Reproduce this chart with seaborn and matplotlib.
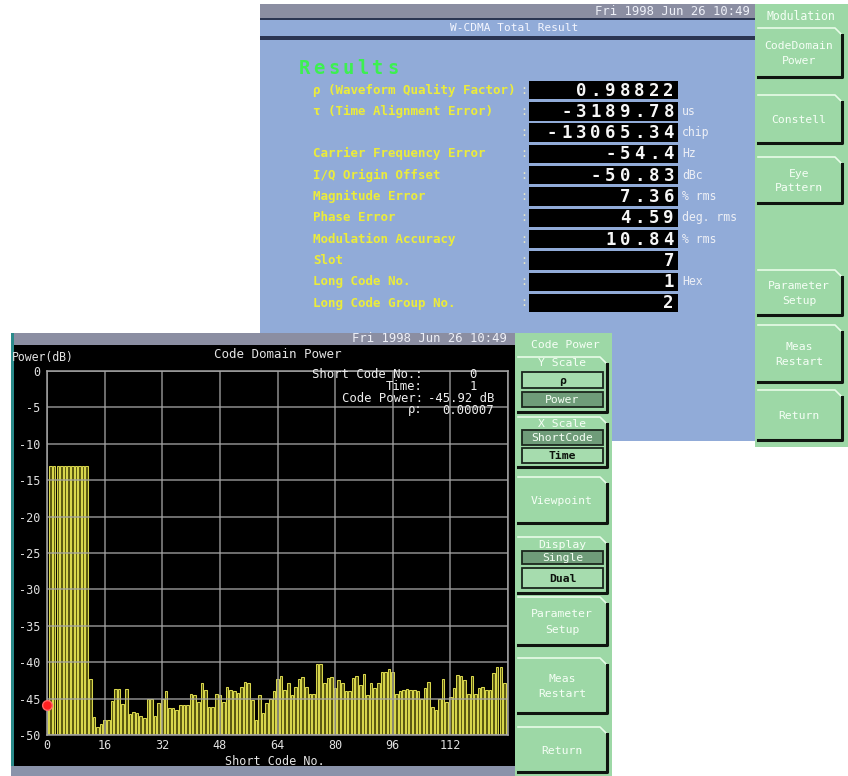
import numpy as np
import pandas as pd
import matplotlib
matplotlib.use("Agg")
import matplotlib.pyplot as plt
from matplotlib.patches import Rectangle
from matplotlib.ticker import FuncFormatter, FixedLocator
import seaborn as sns

W, H = 848, 776
plt.rcParams['font.family'] = ['DejaVu Sans Mono', 'DejaVu Sans']

# ------------------------------------------------------------------ data
codes = list(range(128))
power_db = [
    -45.92, -13.0, -13.0, -13.0, -13.0, -13.0, -13.0, -13.0, -13.0, -13.0, -13.0, -13.0,
    -42.3, -47.5, -48.9, -48.5, -48.0, -48.0, -45.3, -43.7, -43.7, -45.7, -43.7, -47.1,
    -46.8, -47.0, -47.4, -47.6, -45.0, -45.0, -47.4, -45.6, -45.0, -44.0, -46.3, -46.3,
    -46.6, -45.9, -45.9, -45.9, -44.3, -44.5, -45.5, -42.9, -43.8, -46.1, -46.1, -44.3,
    -44.5, -45.5, -43.4, -43.8, -43.9, -44.2, -43.4, -42.7, -42.9, -45.2, -47.9, -44.5,
    -47.0, -45.6, -45.1, -44.0, -42.3, -41.9, -43.8, -42.9, -44.5, -43.4, -42.3, -42.1,
    -43.4, -44.3, -44.3, -40.2, -40.3, -42.9, -42.2, -42.1, -43.5, -42.4, -42.9, -44.0,
    -44.0, -42.2, -41.9, -43.1, -41.6, -44.5, -42.9, -43.6, -42.9, -41.3, -41.3, -40.9,
    -41.3, -44.3, -44.0, -43.8, -43.7, -43.8, -43.8, -43.9, -45.1, -43.6, -42.7, -46.1,
    -46.6, -45.1, -42.3, -45.5, -44.8, -43.6, -41.7, -41.9, -42.4, -44.3, -41.9, -44.3,
    -43.6, -43.4, -43.8, -43.8, -41.5, -40.6, -40.6, -42.9,
]
floor_db = -50
y_ticks_db = [0, -5, -10, -15, -20, -25, -30, -35, -40, -45, -50]
x_ticks = [0, 16, 32, 48, 64, 80, 96, 112, 128]
x_tick_labels = ["0", "16", "32", "48", "64", "80", "96", "112", ""]

marker_code = 0
marker_power = -45.92
info_labels = ["Short Code No.:", "Time:", "Code Power:", "ρ:"]
info_values = ["0", "1", "-45.92 dB", "0.00007"]

result_labels = ["ρ (Waveform Quality Factor)", "τ (Time Alignment Error)", "",
                 "Carrier Frequency Error", "I/Q Origin Offset", "Magnitude Error",
                 "Phase Error", "Modulation Accuracy", "Slot", "Long Code No.",
                 "Long Code Group No."]
result_values = ["0.98822", "-3189.78", "-13065.34", "-54.4", "-50.83", "7.36",
                 "4.59", "10.84", "7", "1", "2"]
result_units = ["", "us", "chip", "Hz", "dBc", "% rms", "deg. rms", "% rms", "", "Hex", ""]

top_menu = [("CodeDomain\nPower", 28, 77), ("Constell", 95, 143), ("Eye\nPattern", 157, 203),
            ("Parameter\nSetup", 270, 315), ("Meas\nRestart", 325, 382), ("Return", 390, 440)]
date_text = "Fri 1998 Jun 26 10:49"

# ------------------------------------------------------------------ figure
fig = plt.figure(figsize=(W / 100, H / 100), dpi=100)
fig.patch.set_facecolor("white")

def px_rect(l, t, w, h):
    return [l / W, 1 - (t + h) / H, w / W, h / H]

bg = fig.add_axes([0, 0, 1, 1], zorder=0)
bg.set_xlim(0, W); bg.set_ylim(H, 0); bg.axis("off")
ov = fig.add_axes([0, 0, 1, 1], zorder=10)
ov.set_xlim(0, W); ov.set_ylim(H, 0); ov.axis("off"); ov.patch.set_alpha(0)

GREEN = "#9dd8a6"
DARKSEL = "#6f9c79"
GRAYBAR = "#8b8ea2"
BLUE = "#91abd8"

def box(ax, x0, y0, x1, y1, fc, ec="none", lw=0, z=1):
    ax.add_patch(Rectangle((x0, y0), x1 - x0, y1 - y0, facecolor=fc, edgecolor=ec, lw=lw, zorder=z))

def button(ax, x0, y0, x1, y1, face=GREEN):
    box(ax, x0, y0, x1, y1, face)
    ax.plot([x0, x1 - 7, x1], [y0, y0, y0 + 7], color="#e8fbe8", lw=1.2, zorder=2)
    ax.plot([x1, x1, x0], [y0 + 7, y1, y1], color="#101510", lw=2.2, zorder=2)

def cells(ax, right, y, s, cell, **kw):
    n = len(s)
    for i, ch in enumerate(s):
        ax.text(right - (n - i - 0.5) * cell, y, ch, ha="center", va="center", **kw)

# ---------------- top panel (W-CDMA Total Result)
box(bg, 260, 4, 755, 18, GRAYBAR)
box(bg, 260, 18, 755, 40, "#2b3552")
box(bg, 260, 20, 755, 36, BLUE)
box(bg, 260, 40, 755, 441, BLUE)
box(bg, 755, 4, 848, 447, GREEN)
ov.text(750, 11.5, date_text, ha="right", va="center", color="#eef0f8", fontsize=8.8)
ov.text(514, 28, "W-CDMA Total Result", ha="center", va="center", color="#f4f6ff", fontsize=8)
ov.text(801, 17, "Modulation", ha="center", va="center", color="#f4fff4", fontsize=8.3)
for label, t, b in top_menu:
    button(bg, 758, t, 842, b)
    ov.text(799, (t + b) / 2 + 1, label, ha="center", va="center", color="#f6fff6",
            fontsize=8.2, linespacing=1.55)

cells(ov, 400, 68, "Results", 14.7, color="#3cf050", fontsize=13.5, fontweight="bold")
row_y0, row_dy = 90, 21.3
for i, (lab, val, unit) in enumerate(zip(result_labels, result_values, result_units)):
    y = row_y0 + i * row_dy
    box(bg, 529, y - 9.2, 678, y + 9.2, "#000000", z=2)
    ov.text(313, y, lab, ha="left", va="center", color="#ecec3a", fontsize=9, fontweight="bold")
    ov.text(524, y, ":", ha="center", va="center", color="#e6e6c8", fontsize=8.5)
    cells(ov, 676, y + 0.5, val, 14.6, color="#f6f6f6", fontsize=12.5, fontweight="bold")
    if unit:
        ov.text(682, y, unit, ha="left", va="center", color="#eef0f6", fontsize=8.3)

# ---------------- lower panel (Code Domain Power)
box(bg, 11, 333, 516, 345, GRAYBAR)
box(bg, 11, 345, 516, 766, "#000000")
box(bg, 11, 333, 13.5, 776, "#2a8a8a")
box(bg, 11, 766, 516, 776, "#8a93aa")
box(bg, 515, 333, 612, 776, GREEN)
ov.text(507, 339, date_text, ha="right", va="center", color="#eef0f8", fontsize=8.8)

ov.text(565, 345, "Code Power", ha="center", va="center", color="#f6fff6", fontsize=8.2)
groups = [("Y Scale", 357, 412, 363, [("ρ", 372, 388, False), ("Power", 392, 407, True)]),
          ("X Scale", 417, 467, 424, [("ShortCode", 430, 445, True), ("Time", 448, 463, False)]),
          ("Display", 537, 593, 545, [("Single", 551, 564, True), ("Dual", 568, 588, False)])]
for title, t, b, ty, subs in groups:
    button(bg, 518, t, 607, b)
    ov.text(562, ty, title, ha="center", va="center", color="#f6fff6", fontsize=8.2)
    for lab, st, sb, sel in subs:
        box(bg, 522, st, 603, sb, DARKSEL if sel else "#a6dcae", ec="#1b261d", lw=1.3, z=3)
        ov.text(562.5, (st + sb) / 2 + 0.5, lab, ha="center", va="center",
                color="#f4fff4" if sel else "#0c120c", fontsize=8.2,
                fontweight="normal" if sel else "bold")
low_menu = [("Viewpoint", 477, 523), ("Parameter\nSetup", 597, 645),
            ("Meas\nRestart", 658, 713), ("Return", 727, 772)]
for label, t, b in low_menu:
    button(bg, 518, t, 607, b)
    ov.text(562, (t + b) / 2 + 1, label, ha="center", va="center", color="#f6fff6",
            fontsize=8.2, linespacing=1.7)

# chart texts
ov.text(12, 357, "Power(dB)", ha="left", va="center", color="#e4e4e4", fontsize=8.3)
ov.text(278, 355, "Code Domain Power", ha="center", va="center", color="#e4e4e4", fontsize=9)
info_y = [375, 387, 398.5, 410]
info_right = [477, 477, 494, 494]
for lab, val, y, r in zip(info_labels, info_values, info_y, info_right):
    ov.text(423, y, lab, ha="right", va="center", color="#eeeeee", fontsize=8.8)
    ov.text(r, y, val, ha="right", va="center", color="#eeeeee", fontsize=8.8)
ov.text(275, 761.5, "Short Code No.", ha="center", va="center", color="#e4e4e4", fontsize=8.5)

# ---------------- bar chart via seaborn
ax = fig.add_axes(px_rect(47, 371, 461, 364), zorder=5)
ax.set_facecolor("black")
df = pd.DataFrame({"code": codes, "level": np.array(power_db) - floor_db})
sns.barplot(data=df, x="code", y="level", native_scale=True, orient="x", ax=ax,
            color="#5a5810", edgecolor="#d8d64c", linewidth=0.75, saturation=1,
            width=0.72, errorbar=None)
ax.plot([marker_code], [marker_power - floor_db], "o", color="#ff2020", ms=7,
        mec="#ff6a6a", clip_on=False, zorder=6)
ax.set_xlim(0, 128)
ax.set_ylim(0, 50)
ax.xaxis.set_major_locator(FixedLocator(x_ticks))
ax.set_xticklabels(x_tick_labels)
ax.yaxis.set_major_locator(FixedLocator([v - floor_db for v in y_ticks_db]))
ax.yaxis.set_major_formatter(FuncFormatter(lambda v, p: f"{int(round(v + floor_db))}"))
ax.set_xlabel(""); ax.set_ylabel("")
ax.tick_params(axis="both", length=0, colors="#e0e0e0", labelsize=8.5)
ax.tick_params(axis="y", pad=5)
ax.tick_params(axis="x", pad=3)
ax.grid(True, color="#a4a4a4", lw=1.1, alpha=0.85)
ax.set_axisbelow(False)
for s in ax.spines.values():
    s.set_color("#a4a4a4"); s.set_linewidth(1.1)

fig.savefig("out.png", dpi=100, facecolor="white")
